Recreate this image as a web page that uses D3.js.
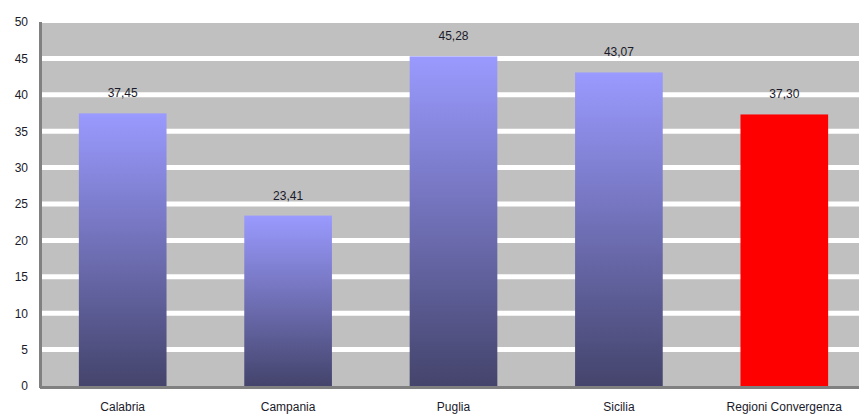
<!DOCTYPE html>
<html><head><meta charset="utf-8">
<script src="https://cdn.jsdelivr.net/npm/d3@7"></script>
<style>body{margin:0;background:#fff}svg{display:block}</style>
</head><body>
<script>
const categories = ["Calabria","Campania","Puglia","Sicilia","Regioni Convergenza"];
const values = [37.45, 23.41, 45.28, 43.07, 37.30];
const labels = ["37,45","23,41","45,28","43,07","37,30"];
const yTicks = [0,5,10,15,20,25,30,35,40,45,50];

const W = 859, H = 414;
const svg = d3.select("body").append("svg").attr("width", W).attr("height", H);
const x = d3.scaleBand().domain(categories).range([40, 867]).paddingInner(0.47).paddingOuter(0.235);
const y = d3.scaleLinear().domain([0, 50]).range([386, 22]);

const defs = svg.append("defs");
const g = defs.append("linearGradient").attr("id","bg").attr("x1",0).attr("y1",0).attr("x2",0).attr("y2",1);
g.append("stop").attr("offset","0%").attr("stop-color","#9a9aff");
g.append("stop").attr("offset","100%").attr("stop-color","#44446c");

// plot background
svg.append("rect").attr("x",41).attr("y",y(50)).attr("width",W-41).attr("height",y(0)-y(50)).attr("fill","#c0c0c0");
// gridlines
svg.append("g").selectAll("line").data(yTicks.filter(d=>d>0)).join("line")
  .attr("x1",42).attr("x2",W).attr("y1",d=>y(d)).attr("y2",d=>y(d))
  .attr("stroke","#fff").attr("stroke-width",d=>d===50?2:5);

// bars
svg.append("g").selectAll("rect").data(categories).join("rect")
  .attr("x",d=>x(d)).attr("width",x.bandwidth())
  .attr("y",(d,i)=>y(values[i])).attr("height",(d,i)=>y(0)-y(values[i]))
  .attr("fill",(d,i)=>i===4?"#ff0000":"url(#bg)");

// value labels
svg.append("g").selectAll("text").data(categories).join("text")
  .attr("x",d=>x(d)+x.bandwidth()/2).attr("y",(d,i)=>y(values[i])-16)
  .attr("text-anchor","middle").attr("font-family","Liberation Sans, Arial, sans-serif")
  .attr("font-size",12).attr("fill","#1a1a2a").text((d,i)=>labels[i]);

// axes lines
svg.append("line").attr("x1",40.5).attr("x2",40.5).attr("y1",y(50)).attr("y2",y(0)+2).attr("stroke","#808080").attr("stroke-width",3);
svg.append("line").attr("x1",40).attr("x2",W).attr("y1",y(0)+1.5).attr("y2",y(0)+1.5).attr("stroke","#808080").attr("stroke-width",3);

// y axis labels
const ya = d3.axisLeft(y).tickValues(yTicks).tickSize(0).tickPadding(12);
svg.append("g").attr("transform","translate(40,0)").call(ya)
  .call(s=>s.select(".domain").remove())
  .selectAll("text").attr("font-family","Liberation Sans, Arial, sans-serif").attr("font-size",12).attr("fill","#1a1a2a");

// x axis labels
const xa = d3.axisBottom(x).tickSize(0).tickPadding(16);
svg.append("g").attr("transform",`translate(0,${y(0)})`).call(xa)
  .call(s=>s.select(".domain").remove())
  .selectAll("text").attr("font-family","Liberation Sans, Arial, sans-serif").attr("font-size",12).attr("fill","#1a1a2a");
</script>
</body></html>
